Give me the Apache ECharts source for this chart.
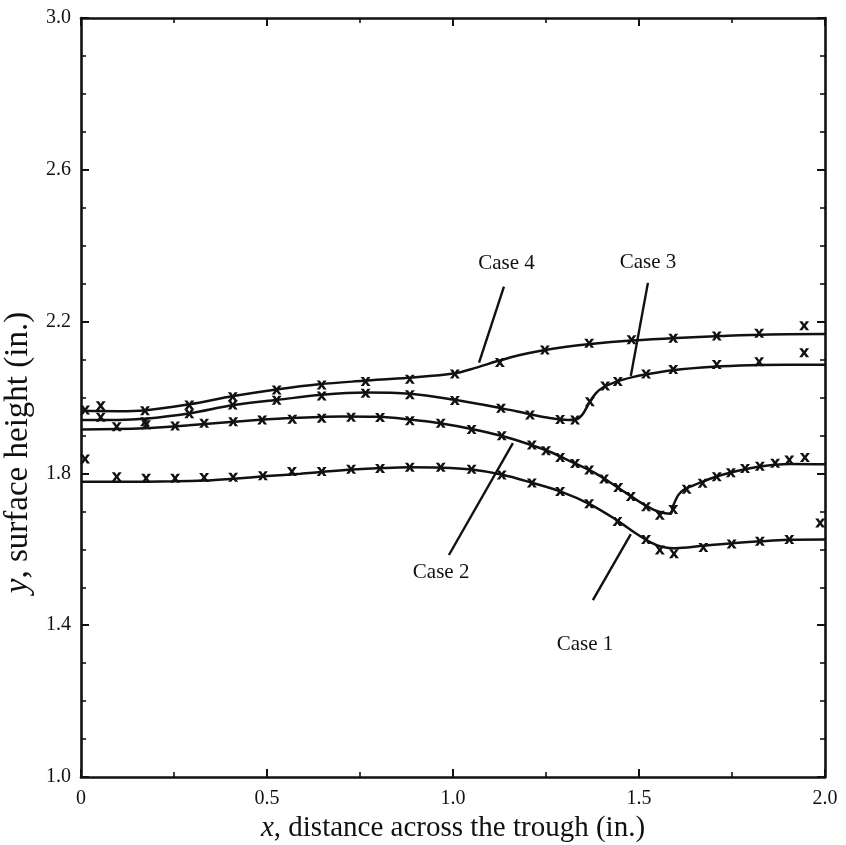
<!DOCTYPE html>
<html>
<head>
<meta charset="utf-8">
<script src="https://cdn.jsdelivr.net/npm/echarts@6/dist/echarts.min.js"></script>
<style>
  html, body { margin: 0; padding: 0; background: #fff; }
  #chart { width: 846px; height: 845px; }
</style>
</head>
<body>
<div id="chart"></div>
<script>
// Surface height profiles across the trough: computed curves and measured points

const xTickLabels = ['0', '0.5', '1.0', '1.5', '2.0'];
const yTickLabels = ['1.0', '1.4', '1.8', '2.2', '2.6', '3.0'];

// computed surface profiles [x, y]
const case1Curve = [[0,1.778],[0.1,1.778],[0.25,1.779],[0.33,1.781],[0.41,1.786],[0.5,1.793],[0.59,1.799],[0.65,1.804],[0.73,1.810],[0.81,1.814],[0.88,1.816],[0.97,1.815],[1.05,1.810],[1.13,1.797],[1.21,1.776],[1.29,1.752],[1.37,1.718],[1.44,1.677],[1.49,1.643],[1.53,1.619],[1.56,1.607],[1.59,1.603],[1.63,1.605],[1.68,1.610],[1.75,1.616],[1.825,1.621],[1.9,1.625],[2.0,1.626]];
const case2Curve = [[0,1.916],[0.17,1.919],[0.29,1.927],[0.41,1.936],[0.55,1.945],[0.7,1.950],[0.8,1.949],[0.884,1.942],[0.965,1.932],[1.05,1.917],[1.13,1.899],[1.2,1.878],[1.26,1.857],[1.32,1.830],[1.38,1.802],[1.44,1.765],[1.5,1.726],[1.54,1.704],[1.57,1.695],[1.585,1.694],[1.592,1.715],[1.605,1.742],[1.62,1.757],[1.645,1.768],[1.673,1.779],[1.709,1.792],[1.749,1.803],[1.785,1.811],[1.825,1.818],[1.866,1.823],[1.906,1.825],[2.0,1.824]];
const case3Curve = [[0,1.941],[0.1,1.941],[0.17,1.944],[0.29,1.958],[0.41,1.980],[0.53,1.994],[0.647,2.007],[0.765,2.013],[0.884,2.010],[1.005,1.994],[1.129,1.972],[1.207,1.956],[1.26,1.946],[1.31,1.941],[1.335,1.944],[1.35,1.958],[1.368,1.989],[1.385,2.012],[1.404,2.027],[1.44,2.042],[1.48,2.053],[1.52,2.061],[1.59,2.072],[1.7,2.081],[1.8,2.085],[1.9,2.086],[2.0,2.086]];
const case4Curve = [[0,1.965],[0.1,1.964],[0.17,1.966],[0.29,1.982],[0.41,2.004],[0.53,2.022],[0.64,2.035],[0.76,2.044],[0.88,2.052],[1.005,2.064],[1.06,2.078],[1.12,2.096],[1.18,2.112],[1.24,2.124],[1.3,2.133],[1.37,2.141],[1.48,2.150],[1.6,2.157],[1.72,2.162],[1.85,2.166],[2.0,2.167]];

// measured points [x, y]
const case1Points = [[0.011,1.838],[0.096,1.791],[0.175,1.787],[0.253,1.787],[0.331,1.789],[0.409,1.790],[0.489,1.794],[0.567,1.805],[0.647,1.805],[0.726,1.811],[0.804,1.813],[0.884,1.816],[0.967,1.816],[1.050,1.811],[1.131,1.796],[1.212,1.775],[1.288,1.752],[1.366,1.720],[1.442,1.673],[1.519,1.626],[1.556,1.598],[1.594,1.588],[1.673,1.605],[1.749,1.614],[1.825,1.621],[1.904,1.626],[1.987,1.669]];
const case2Points = [[0.096,1.923],[0.175,1.928],[0.253,1.925],[0.331,1.932],[0.409,1.936],[0.487,1.941],[0.568,1.943],[0.647,1.945],[0.726,1.948],[0.804,1.947],[0.884,1.939],[0.967,1.932],[1.050,1.916],[1.131,1.899],[1.212,1.875],[1.250,1.860],[1.288,1.842],[1.328,1.826],[1.366,1.809],[1.406,1.785],[1.444,1.763],[1.478,1.739],[1.519,1.712],[1.556,1.690],[1.592,1.705],[1.628,1.758],[1.671,1.774],[1.709,1.791],[1.747,1.802],[1.785,1.813],[1.825,1.819],[1.866,1.827],[1.904,1.835],[1.946,1.842]];
const case3Points = [[0.053,1.948],[0.172,1.936],[0.291,1.957],[0.408,1.980],[0.526,1.993],[0.647,2.004],[0.765,2.011],[0.884,2.007],[1.005,1.992],[1.129,1.972],[1.207,1.954],[1.288,1.942],[1.328,1.941],[1.368,1.989],[1.409,2.030],[1.443,2.042],[1.519,2.062],[1.592,2.074],[1.709,2.087],[1.823,2.094],[1.944,2.118]];
const case4Points = [[0.011,1.967],[0.053,1.978],[0.172,1.965],[0.291,1.980],[0.408,2.002],[0.526,2.020],[0.647,2.033],[0.765,2.042],[0.884,2.048],[1.005,2.062],[1.126,2.092],[1.247,2.125],[1.366,2.143],[1.480,2.152],[1.592,2.156],[1.709,2.162],[1.823,2.169],[1.944,2.189]];

// case labels and their leader lines
const caseNames = ['Case 1', 'Case 2', 'Case 3', 'Case 4'];
const labelAt = [[1.355,1.348],[0.968,1.538],[1.524,2.357],[1.144,2.354]];
const leaderFrom = [[1.376,1.466],[0.989,1.585],[1.524,2.302],[1.137,2.292]];
const leaderTo = [[1.478,1.640],[1.161,1.880],[1.478,2.057],[1.070,2.092]];

const SERIF = '"Liberation Serif", "Times New Roman", serif';
const INK = '#111';
const CROSS = 'path://M0,0 L3.2,0 L5,3 L6.8,0 L10,0 L6.6,5 L10,10 L6.8,10 L5,7 L3.2,10 L0,10 L3.4,5 Z';

const chart = echarts.init(document.getElementById('chart'), null, { renderer: 'canvas' });

function curveSeries(data) {
  return {
    type: 'line', data: data, xAxisIndex: 0, yAxisIndex: 0,
    showSymbol: false, smooth: 0.35,
    lineStyle: { color: INK, width: 2.5 }, silent: true, z: 3
  };
}
function pointSeries(data) {
  return {
    type: 'scatter', data: data, xAxisIndex: 0, yAxisIndex: 0,
    symbol: CROSS, symbolSize: [10, 9],
    itemStyle: { color: INK, opacity: 1 }, silent: true, z: 4
  };
}

const axisCommon = {
  type: 'value',
  axisLine: { show: true, onZero: false, lineStyle: { color: INK, width: 2.6 } },
  axisTick: { show: true, inside: true, length: 8, lineStyle: { color: INK, width: 2 } },
  minorTick: { show: true, length: 5, lineStyle: { color: INK, width: 1.6 } },
  splitLine: { show: false },
  minorSplitLine: { show: false }
};

const option = {
  animation: false,
  backgroundColor: '#fff',
  grid: { left: 81, right: 21, top: 18, bottom: 68, containLabel: false, outerBoundsMode: 'none' },
  xAxis: [
    Object.assign({}, axisCommon, {
      position: 'bottom', min: 0, max: 2, interval: 0.5,
      minorTick: Object.assign({}, axisCommon.minorTick, { splitNumber: 2 }),
      axisLabel: {
        show: true, margin: 12, color: INK, fontFamily: SERIF, fontSize: 20,
        formatter: function (v) { return xTickLabels[Math.round(v / 0.5)]; }
      },
      name: '{i|x}, distance across the trough (in.)',
      nameLocation: 'middle', nameGap: 32,
      nameTextStyle: {
        color: INK, fontFamily: SERIF, fontSize: 29,
        rich: { i: { fontStyle: 'italic', fontFamily: SERIF, fontSize: 29, color: INK } }
      }
    }),
    Object.assign({}, axisCommon, {
      position: 'top', min: 0, max: 2, interval: 0.5,
      minorTick: Object.assign({}, axisCommon.minorTick, { splitNumber: 2 }),
      axisLabel: { show: false }
    })
  ],
  yAxis: [
    Object.assign({}, axisCommon, {
      position: 'left', min: 1, max: 3, interval: 0.4,
      minorTick: Object.assign({}, axisCommon.minorTick, { splitNumber: 4 }),
      axisLabel: {
        show: true, margin: 10, color: INK, fontFamily: SERIF, fontSize: 20,
        formatter: function (v) { return yTickLabels[Math.round((v - 1) / 0.4)]; }
      },
      name: '{i|y}, surface height (in.)',
      nameLocation: 'middle', nameGap: 41,
      nameTextStyle: {
        color: INK, fontFamily: SERIF, fontSize: 33, padding: [0, 110, 0, 0],
        rich: { i: { fontStyle: 'italic', fontFamily: SERIF, fontSize: 33, color: INK } }
      }
    }),
    Object.assign({}, axisCommon, {
      position: 'right', min: 1, max: 3, interval: 0.4,
      minorTick: Object.assign({}, axisCommon.minorTick, { splitNumber: 4 }),
      axisLabel: { show: false }
    })
  ],
  series: [
    curveSeries(case1Curve), curveSeries(case2Curve), curveSeries(case3Curve), curveSeries(case4Curve),
    pointSeries(case1Points), pointSeries(case2Points), pointSeries(case3Points), pointSeries(case4Points),
    {
      type: 'lines', coordinateSystem: 'cartesian2d', xAxisIndex: 0, yAxisIndex: 0,
      data: caseNames.map(function (n, i) { return { coords: [leaderFrom[i], leaderTo[i]] }; }),
      lineStyle: { color: INK, width: 2.4, opacity: 1 }, silent: true, z: 5
    },
    {
      type: 'scatter', xAxisIndex: 0, yAxisIndex: 0,
      data: caseNames.map(function (n, i) { return { name: n, value: labelAt[i] }; }),
      symbolSize: 0.1, itemStyle: { color: 'transparent', opacity: 1 },
      label: {
        show: true, position: 'inside', formatter: '{b}', opacity: 1,
        color: INK, fontFamily: SERIF, fontSize: 21
      },
      silent: true, z: 6
    }
  ]
};

chart.setOption(option);
</script>
</body>
</html>
